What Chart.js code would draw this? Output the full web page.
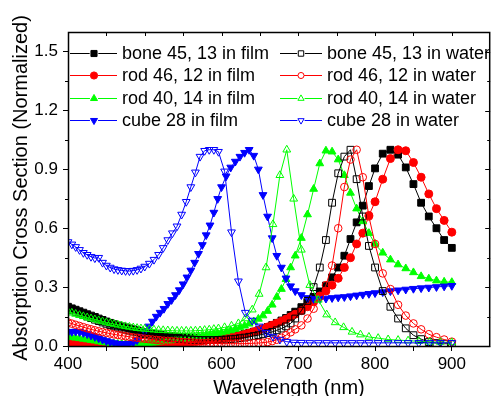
<!DOCTYPE html>
<html>
<head>
<meta charset="utf-8">
<script src="https://cdn.jsdelivr.net/npm/chart.js@4/dist/chart.umd.min.js"></script>
<style>
  html, body { margin: 0; padding: 0; background: #fff; }
  #wrap { width: 496px; height: 396px; }
</style>
</head>
<body>
<div id="wrap"><canvas id="absChart"></canvas></div>
<script>
// wavelength grids (nm)
var gridFilm = [400, 405, 410, 415, 420, 425, 430, 435, 440, 445, 450, 455, 460, 465, 470, 475, 480, 485, 490, 495, 500,
  505, 510, 515, 520, 525, 530, 535, 540, 545, 550, 555, 560, 565, 570, 575, 580, 585, 590, 595, 600,
  606, 612, 618, 624, 630, 636, 642, 648, 654, 660, 666, 672, 678, 684, 690, 696,
  704, 712, 720, 728, 736, 744, 752, 760, 768, 776, 784, 792, 800,
  810, 820, 830, 840, 850, 860, 870, 880, 890, 900];

var gridWater = [400, 405, 410, 415, 420, 425, 430, 435, 440, 445, 450, 455, 460, 465, 470, 475, 480, 485, 490, 495, 500,
  506, 512, 518, 524, 530, 536, 542, 548, 554, 560, 566, 572, 578, 584, 590, 596,
  604, 613, 622, 631, 640, 649, 658, 667, 676, 685, 694,
  704, 715, 726, 737, 748, 759, 770, 781, 792,
  804, 817, 830, 843, 857, 871, 885, 900];

// normalized cross sections
var boneFilm = [0.200, 0.192, 0.185, 0.177, 0.170, 0.162, 0.155, 0.148, 0.140, 0.133, 0.125, 0.118, 0.111, 0.105, 0.100, 0.095, 0.090, 0.085, 0.080, 0.075, 0.070,
  0.067, 0.063, 0.060, 0.057, 0.054, 0.052, 0.050, 0.048, 0.046, 0.045, 0.044, 0.043, 0.042, 0.042, 0.042, 0.042, 0.042, 0.043, 0.044, 0.045,
  0.047, 0.050, 0.053, 0.057, 0.062, 0.067, 0.073, 0.080, 0.088, 0.097, 0.107, 0.118, 0.130, 0.143, 0.158, 0.175,
  0.198, 0.222, 0.250, 0.278, 0.308, 0.350, 0.400, 0.460, 0.545, 0.630, 0.715, 0.815, 0.905,
  0.980, 1.000, 0.975, 0.910, 0.825, 0.730, 0.660, 0.600, 0.540, 0.500];

var rod46Film = [0.015, 0.014, 0.013, 0.012, 0.011, 0.010, 0.010, 0.009, 0.008, 0.008, 0.007, 0.007, 0.006, 0.006, 0.006, 0.006, 0.006, 0.006, 0.007, 0.007, 0.008,
  0.008, 0.009, 0.010, 0.011, 0.012, 0.013, 0.014, 0.015, 0.017, 0.018, 0.020, 0.021, 0.023, 0.025, 0.027, 0.029, 0.031, 0.033, 0.036, 0.038,
  0.041, 0.045, 0.049, 0.054, 0.060, 0.066, 0.073, 0.080, 0.088, 0.097, 0.106, 0.116, 0.126, 0.137, 0.149, 0.162,
  0.180, 0.200, 0.225, 0.255, 0.280, 0.310, 0.345, 0.400, 0.450, 0.520, 0.575, 0.665, 0.735,
  0.850, 0.955, 1.000, 0.995, 0.935, 0.860, 0.775, 0.700, 0.640, 0.580];

var rod40Film = [0.045, 0.044, 0.042, 0.039, 0.036, 0.033, 0.030, 0.027, 0.023, 0.020, 0.017, 0.014, 0.012, 0.010, 0.009, 0.008, 0.008, 0.008, 0.009, 0.010, 0.012,
  0.014, 0.016, 0.018, 0.021, 0.023, 0.026, 0.028, 0.031, 0.033, 0.036, 0.038, 0.041, 0.044, 0.047, 0.050, 0.053, 0.056, 0.060, 0.064, 0.068,
  0.073, 0.079, 0.086, 0.094, 0.103, 0.113, 0.125, 0.138, 0.155, 0.178, 0.210, 0.250, 0.290, 0.340, 0.400, 0.460,
  0.550, 0.670, 0.800, 0.930, 0.995, 0.990, 0.950, 0.870, 0.780, 0.700, 0.635, 0.575, 0.520,
  0.475, 0.440, 0.415, 0.395, 0.375, 0.355, 0.343, 0.333, 0.327, 0.325];

var cubeFilm = [0.070, 0.073, 0.074, 0.072, 0.067, 0.061, 0.054, 0.047, 0.040, 0.033, 0.026, 0.020, 0.015, 0.012, 0.010, 0.010, 0.012, 0.018, 0.030, 0.050, 0.075,
  0.100, 0.125, 0.150, 0.170, 0.190, 0.215, 0.235, 0.260, 0.285, 0.315, 0.350, 0.385, 0.425, 0.470, 0.515, 0.565, 0.615, 0.680, 0.750, 0.810,
  0.865, 0.910, 0.940, 0.965, 0.985, 1.000, 0.970, 0.900, 0.770, 0.660, 0.550, 0.460, 0.400, 0.345, 0.305, 0.280,
  0.260, 0.245, 0.240, 0.240, 0.242, 0.245, 0.248, 0.250, 0.254, 0.258, 0.262, 0.266, 0.270,
  0.275, 0.280, 0.284, 0.288, 0.292, 0.295, 0.298, 0.301, 0.304, 0.307];

var boneWater = [0.190, 0.182, 0.174, 0.166, 0.158, 0.150, 0.142, 0.134, 0.127, 0.120, 0.113, 0.106, 0.100, 0.094, 0.088, 0.083, 0.078, 0.073, 0.069, 0.065, 0.061,
  0.057, 0.054, 0.051, 0.048, 0.045, 0.043, 0.041, 0.039, 0.037, 0.035, 0.034, 0.033, 0.032, 0.031, 0.030, 0.030, 0.030, 0.030, 0.031, 0.032,
  0.033, 0.035, 0.037, 0.040, 0.043, 0.047, 0.051, 0.055, 0.060, 0.066, 0.072, 0.080, 0.089, 0.100, 0.115, 0.140,
  0.180, 0.230, 0.300, 0.400, 0.540, 0.730, 0.880, 0.965, 1.000, 0.850, 0.660, 0.510, 0.400,
  0.280, 0.200, 0.140, 0.090, 0.055, 0.035, 0.020, 0.015, 0.012, 0.010];

var rod46Water = [0.120, 0.114, 0.108, 0.102, 0.096, 0.090, 0.085, 0.080, 0.075, 0.071, 0.067, 0.063, 0.059, 0.056, 0.053, 0.050, 0.047, 0.044, 0.042, 0.039, 0.037,
  0.035, 0.033, 0.031, 0.029, 0.027, 0.026, 0.024, 0.023, 0.021, 0.020, 0.019, 0.018, 0.017, 0.016, 0.015, 0.014, 0.014, 0.013, 0.013, 0.012,
  0.012, 0.012, 0.012, 0.012, 0.012, 0.013, 0.014, 0.015, 0.017, 0.020, 0.025, 0.032, 0.042, 0.055, 0.070, 0.085,
  0.105, 0.140, 0.190, 0.250, 0.310, 0.410, 0.600, 0.810, 0.950, 1.000, 0.860, 0.660, 0.520,
  0.370, 0.290, 0.210, 0.155, 0.115, 0.085, 0.060, 0.045, 0.033, 0.022];

var rod40Water = [0.175, 0.169, 0.163, 0.157, 0.151, 0.145, 0.140, 0.135, 0.130, 0.125, 0.120, 0.116, 0.112, 0.108, 0.104, 0.100, 0.097, 0.094, 0.091, 0.089, 0.087,
  0.085, 0.083, 0.081, 0.080, 0.079, 0.078, 0.077, 0.077, 0.077, 0.077, 0.078, 0.079, 0.081, 0.083, 0.086, 0.089,
  0.095, 0.103, 0.115, 0.140, 0.185, 0.265, 0.400, 0.620, 0.870, 1.000, 0.750,
  0.490, 0.310, 0.235, 0.160, 0.120, 0.095, 0.072, 0.058, 0.046,
  0.040, 0.033, 0.030, 0.027, 0.024, 0.021, 0.020, 0.018];

var cubeWater = [0.530, 0.518, 0.505, 0.490, 0.475, 0.465, 0.455, 0.448, 0.450, 0.425, 0.410, 0.400, 0.392, 0.388, 0.385, 0.383, 0.382, 0.384, 0.388, 0.395, 0.405,
  0.420, 0.440, 0.465, 0.500, 0.540, 0.575, 0.610, 0.670, 0.735, 0.810, 0.885, 0.965, 0.995, 1.000, 1.000, 0.990,
  0.890, 0.580, 0.330, 0.170, 0.130, 0.100, 0.068, 0.048, 0.033, 0.022, 0.018,
  0.017, 0.016, 0.016, 0.016, 0.016, 0.016, 0.016, 0.016, 0.016,
  0.016, 0.016, 0.016, 0.016, 0.016, 0.016, 0.016, 0.016];

var seriesNames = ['bone 45, 13 in film', 'rod 46, 12 in film', 'rod 40, 14 in film', 'cube 28 in film',
  'bone 45, 13 in water', 'rod 46, 12 in water', 'rod 40, 14 in water', 'cube 28 in water'];
var seriesX = [gridFilm, gridFilm, gridFilm, gridFilm, gridFilm, gridFilm, gridWater, gridWater];
var seriesY = [boneFilm, rod46Film, rod40Film, cubeFilm, boneWater, rod46Water, rod40Water, cubeWater];

var xTicks = [400, 500, 600, 700, 800, 900];
var yTicks = [0, 0.3, 0.6, 0.9, 1.2, 1.5];

// marker look per series
var looks = [
  { color: '#000000', shape: 'rect', r: 4.8, rot: 0, hollow: false },
  { color: '#ff0000', shape: 'circle', r: 4, rot: 0, hollow: false },
  { color: '#00ff00', shape: 'triangle', r: 4.5, rot: 0, hollow: false },
  { color: '#0000ff', shape: 'triangle', r: 4.5, rot: 180, hollow: false },
  { color: '#000000', shape: 'rect', r: 4.8, rot: 0, hollow: true },
  { color: '#ff0000', shape: 'circle', r: 3.8, rot: 0, hollow: true },
  { color: '#00ff00', shape: 'triangle', r: 4.5, rot: 0, hollow: true },
  { color: '#0000ff', shape: 'triangle', r: 4.5, rot: 180, hollow: true }
];

Chart.defaults.font.family = 'Arial, "Liberation Sans", sans-serif';
Chart.defaults.color = '#000';

var datasets = seriesNames.map(function (name, i) {
  var lk = looks[i];
  return {
    label: name,
    data: seriesX[i].map(function (x, j) { return { x: x, y: seriesY[i][j] }; }),
    borderColor: lk.color,
    borderWidth: 1,
    backgroundColor: lk.color,
    pointStyle: lk.shape,
    pointRotation: lk.rot,
    pointRadius: lk.r,
    pointBorderWidth: 1,
    pointBorderColor: lk.color,
    pointBackgroundColor: lk.hollow ? 'rgba(0,0,0,0)' : lk.color,
    fill: false,
    tension: 0,
    order: 7 - i
  };
});

var frameAndLegend = {
  id: 'frameAndLegend',
  afterDraw: function (chart) {
    var ctx = chart.ctx, a = chart.chartArea;
    var xs = chart.scales.x, ys = chart.scales.y;
    ctx.save();
    ctx.strokeStyle = '#000';
    ctx.lineWidth = 1;
    ctx.beginPath();
    // minor ticks on the left, inward ticks on top and right
    for (var v = 0.15; v < 1.6; v += 0.3) {
      var py = Math.round(ys.getPixelForValue(v)) + 0.5;
      ctx.moveTo(a.left - 3, py); ctx.lineTo(a.left, py);
      ctx.moveTo(a.right, py); ctx.lineTo(a.right - 3, py);
    }
    yTicks.forEach(function (t) {
      var py = Math.round(ys.getPixelForValue(t)) + 0.5;
      ctx.moveTo(a.right, py); ctx.lineTo(a.right - 5, py);
    });
    for (var w = 450; w <= 900; w += 50) {
      var px = Math.round(xs.getPixelForValue(w)) + 0.5;
      ctx.moveTo(px, a.top); ctx.lineTo(px, a.top + 4);
    }
    ctx.stroke();
    ctx.lineWidth = 1.5;
    ctx.strokeRect(a.left + 0.5, a.top + 0.5, a.right - a.left - 1, a.bottom - a.top);

    // legend, two columns
    var cols = [{ from: 70, to: 117, mark: 94, text: 122 }, { from: 280, to: 322, mark: 301, text: 327 }];
    var rows = [53, 75, 98, 120];
    ctx.font = '18px Arial, "Liberation Sans", sans-serif';
    ctx.textBaseline = 'middle';
    ctx.textAlign = 'left';
    seriesNames.forEach(function (name, i) {
      var c = cols[i < 4 ? 0 : 1], y = rows[i % 4], lk = looks[i];
      var r = lk.hollow ? lk.r * 0.8 : lk.r * 0.9;
      ctx.strokeStyle = lk.color;
      ctx.lineWidth = 1;
      ctx.beginPath();
      ctx.moveTo(c.from, y + 0.5); ctx.lineTo(c.mark - r, y + 0.5);
      ctx.moveTo(c.mark + r, y + 0.5); ctx.lineTo(c.to, y + 0.5);
      ctx.stroke();
      ctx.fillStyle = lk.hollow ? 'rgba(0,0,0,0)' : lk.color;
      Chart.helpers.drawPoint(ctx, { pointStyle: lk.shape, rotation: lk.rot, radius: r, borderWidth: 1 }, c.mark, y + 0.5);
      ctx.fillStyle = '#000';
      ctx.fillText(name, c.text, y + 1);
    });

    // axis titles
    ctx.font = '20px Arial, "Liberation Sans", sans-serif';
    ctx.textBaseline = 'alphabetic';
    ctx.textAlign = 'center';
    ctx.fillText('Wavelength (nm)', 289, 394);
    ctx.translate(27, 188);
    ctx.rotate(-Math.PI / 2);
    ctx.fillText('Absorption Cross Section (Normalized)', 0, 0);
    ctx.restore();
  }
};

new Chart(document.getElementById('absChart'), {
  type: 'line',
  data: { datasets: datasets },
  options: {
    responsive: true,
    maintainAspectRatio: false,
    animation: false,
    layout: { padding: { top: 32, right: 1, left: 0, bottom: 0 } },
    plugins: { legend: { display: false }, tooltip: { enabled: false } },
    scales: {
      x: {
        type: 'linear',
        min: 400,
        max: 950,
        afterFit: function (s) { s.height = 50; },
        afterBuildTicks: function (s) { s.ticks = s.ticks.filter(function (t) { return t.value <= 900.5; }); },
        ticks: {
          stepSize: 50,
          autoSkip: false,
          maxRotation: 0,
          padding: 3,
          font: { size: 17 },
          callback: function (v) { return xTicks.indexOf(v) >= 0 ? String(v) : ''; }
        },
        grid: { display: true, drawOnChartArea: false, drawTicks: true, tickLength: 5, color: '#000', lineWidth: 1 },
        border: { display: false }
      },
      y: {
        type: 'linear',
        min: 0,
        max: 1.6,
        afterFit: function (s) { s.width = 68; },
        afterBuildTicks: function (s) { s.ticks = s.ticks.filter(function (t) { return t.value <= 1.55; }); },
        ticks: {
          stepSize: 0.3,
          padding: 5,
          font: { size: 17 },
          callback: function (v) { return v.toFixed(1); }
        },
        grid: { display: true, drawOnChartArea: false, drawTicks: true, tickLength: 5, color: '#000', lineWidth: 1 },
        border: { display: false }
      }
    }
  },
  plugins: [frameAndLegend]
});
</script>
</body>
</html>
